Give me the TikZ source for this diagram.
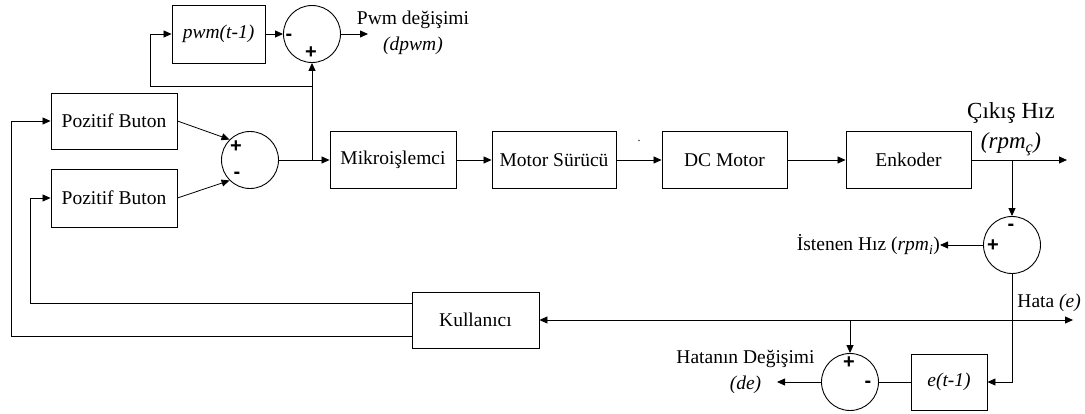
\documentclass[tikz,border=0pt]{standalone}
\usepackage{fontspec}
\setmainfont{Liberation Serif}
\setsansfont{Liberation Sans}
\usetikzlibrary{arrows.meta}
\begin{document}
\begin{tikzpicture}[x=1pt,y=-1pt,
  blk/.style={draw, line width=0.9pt, minimum height=57pt, inner sep=0pt, font=\fontsize{19.5}{23}\selectfont},
  sumc/.style={draw, circle, line width=0.9pt, minimum size=57pt, inner sep=0pt},
  arr/.style={line width=0.8pt, -{Triangle[length=8pt,width=7pt]}},
  ln/.style={line width=0.8pt},
  sgn/.style={font=\sffamily\bfseries\fontsize{20}{20}\selectfont, inner sep=0pt},
  lbl/.style={font=\fontsize{19.5}{26}\selectfont, inner sep=0pt, align=center}]
\useasboundingbox (0,0) rectangle (1085,414);

% blocks
\node[blk, minimum width=93pt, minimum height=58pt] (pwm) at (218.5,34) {\textit{pwm(t-1)}};
\node[blk, minimum width=126pt, minimum height=56pt] (pb1) at (114,121) {Pozitif Buton};
\node[blk, minimum width=126pt, minimum height=58pt] (pb2) at (114,198) {Pozitif Buton};
\node[blk, minimum width=126pt] (mik) at (393,160) {Mikroişlemci};
\node[blk, minimum width=124pt] (mot) at (554,160) {Motor Sürücü};
\node[blk, minimum width=125pt] (dc) at (724.5,160) {DC Motor};
\node[blk, minimum width=125pt] (enk) at (908.5,160) {Enkoder};
\node[blk, minimum width=127pt, minimum height=56pt] (kul) at (475.5,320) {Kullanıcı};
\node[blk, minimum width=76pt, minimum height=56pt] (et) at (949,382) {\textit{e(t-1)}};

% summing junctions
\node[sumc] (s2) at (312,34) {};
\node[sumc] (s1) at (250,160) {};
\node[sumc] (s3) at (1012,245) {};
\node[sumc] (s4) at (850,382) {};

% signs
\node[sgn] at (289,37) {-};
\node[sgn] at (311,53) {+};
\node[sgn] at (236,147) {+};
\node[sgn] at (237,175) {-};
\node[sgn] at (1011,227) {-};
\node[sgn] at (993,246) {+};
\node[sgn] at (849,363) {+};
\node[sgn] at (868,384) {-};

% coordinates
\coordinate (j1) at (312,160);
\coordinate (j1b) at (312,86);
\coordinate (c1) at (150,86);
\coordinate (pout) at (368,34);
\coordinate (j2) at (1012,160);
\coordinate (yout) at (1067,160);
\coordinate (h) at (1012,320);
\coordinate (hout) at (1073,320);
\coordinate (j3) at (850,320);
\coordinate (deo) at (777,382);
\coordinate (k1) at ([yshift=17pt]kul.west);
\coordinate (k2) at ([yshift=-16pt]kul.west);
\coordinate (c4) at (30,303);
\coordinate (c5) at (11,336);

% labels
\node[lbl] (pwml) at (413,33) {Pwm değişimi\\\textit{(dpwm)}};
\node[lbl, font=\fontsize{23}{30}\selectfont] (cik) at (1011,129) {Çıkış Hız\\\textit{(rpm}\textsubscript{\textit{ç}}\textit{)}};
\node[lbl, anchor=east] (ist) at (940,245) {İstenen Hız (\textit{rpm}\textsubscript{\textit{i}})};
\node[lbl, anchor=east] (hata) at (1081,303) {Hata \textit{(e)}};
\node[lbl] (del) at (745.5,372) {Hatanın Değişimi\\\textit{(de)}};
\node[font=\fontsize{12}{12}\selectfont, inner sep=0pt] (dot) at (639,141) {.};

% connectors
\draw[arr] (pb1.east) -- (s1.135);
\draw[arr] (pb2.east) -- (s1.225);
\draw[arr] (s1.east) -- (mik.west);
\draw[arr] (j1) -- (s2.south);
\draw[arr] (j1b) -- (c1) |- (pwm.west);
\draw[arr] (pwm.east) -- (s2.west);
\draw[arr] (s2.east) -- (pout);
\draw[arr] (mik.east) -- (mot.west);
\draw[arr] (mot.east) -- (dc.west);
\draw[arr] (dc.east) -- (enk.west);
\draw[arr] (enk.east) -- (yout);
\draw[arr] (j2) -- (s3.north);
\draw[arr] (s3.west) -- (ist.east);
\draw[arr] (s3.south) |- (et.east);
\draw[arr] (h) -- (kul.east);
\draw[arr] (h) -- (hout);
\draw[arr] (j3) -- (s4.north);
\draw[ln] (et.west) -- (s4.east);
\draw[arr] (s4.west) -- (deo);
\draw[arr] (k1) -- (c4) |- (pb2.west);
\draw[arr] (k2) -- (c5) |- (pb1.west);
\end{tikzpicture}
\end{document}
